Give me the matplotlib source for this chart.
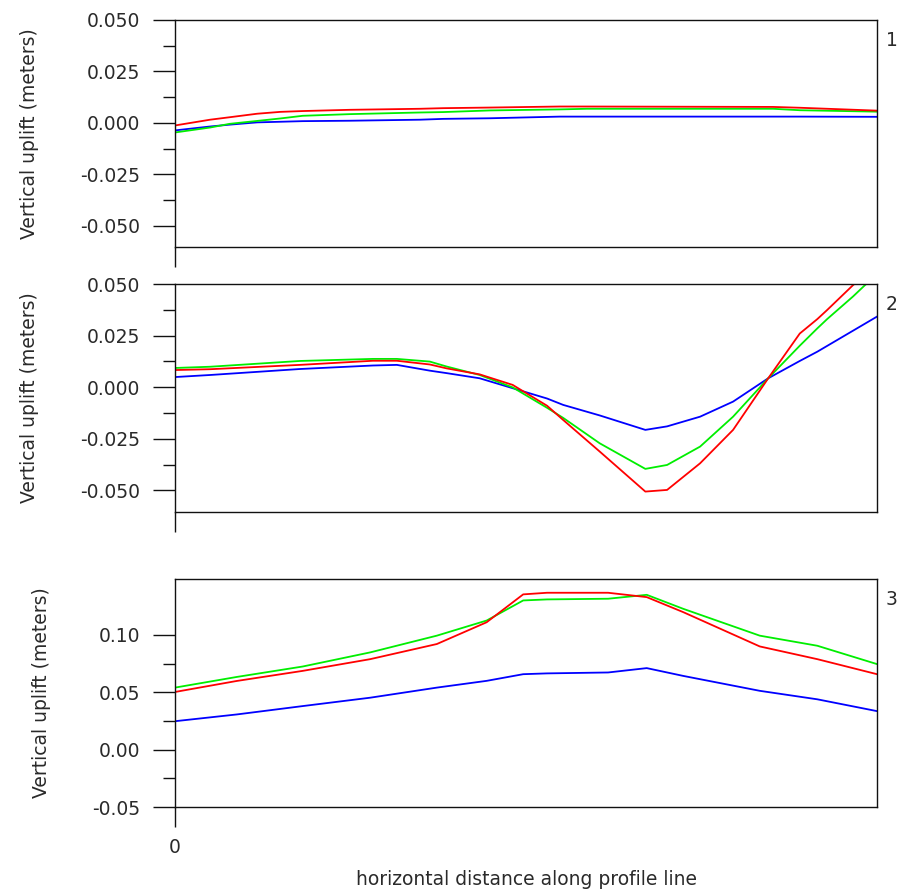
import matplotlib
matplotlib.use("Agg")
import matplotlib.pyplot as plt
from matplotlib.lines import Line2D
from matplotlib.ticker import FixedLocator, FuncFormatter

plt.rcParams['font.family'] = ['DejaVu Sans']
plt.rcParams['axes.unicode_minus'] = False

# ---------------- data ----------------
# Panel 1
x1 = [0, 5, 7.8, 11.7, 15, 18.2, 24.9, 34.9, 38.2, 44.9, 54.8, 58.7, 85.2, 89, 100]
red1 = [-0.0012, 0.0016, 0.0028, 0.0045, 0.0054, 0.0058, 0.0064, 0.0069, 0.0072, 0.0075,
        0.0080, 0.0080, 0.0078, 0.0074, 0.0060]
green1 = [-0.0046, -0.0022, -0.0004, 0.0010, 0.0022, 0.0035, 0.0043, 0.0051, 0.0053, 0.0061,
          0.0066, 0.0069, 0.0069, 0.0062, 0.0055]
blue1 = [-0.0036, -0.0017, -0.0008, 0.0003, 0.0006, 0.0009, 0.0011, 0.0016, 0.0020, 0.0023,
         0.0031, 0.0031, 0.0031, 0.0031, 0.0030]

# Panel 2
x2 = [0, 5, 17.8, 28.2, 31.6, 36.3, 38.7, 43.4, 48.1, 53, 55.3, 60.5, 67, 70.1, 74.8,
      79.5, 84.5, 89, 91.5, 92.9, 96.6, 98.3, 100]
red2 = [0.0083, 0.0087, 0.0108, 0.0128, 0.0128, 0.0110, 0.0091, 0.0062, 0.0011, -0.0090,
        -0.0159, -0.0312, -0.0506, -0.0498, -0.0369, -0.0207, 0.0043, 0.0260, 0.0330, 0.0374,
        0.0495, 0.0540, 0.0580]
green2 = [0.0093, 0.0099, 0.0127, 0.0137, 0.0137, 0.0124, 0.0100, 0.0059, -0.0001, -0.0100,
          -0.0149, -0.0272, -0.0396, -0.0377, -0.0288, -0.0143, 0.0043, 0.0201, 0.0285, 0.0330,
          0.0440, 0.0495, 0.0540]
blue2 = [0.0049, 0.0059, 0.0088, 0.0105, 0.0108, 0.0080, 0.0068, 0.0043, -0.0005, -0.0055,
         -0.0086, -0.0137, -0.0207, -0.0190, -0.0143, -0.0070, 0.0043, 0.0127, 0.0172, 0.0200,
         0.0274, 0.0308, 0.0342]

# Panel 3
x3 = [0, 8.8, 18.2, 27.8, 37.3, 44.4, 49.6, 53, 61.7, 67.2, 72.4, 83.3, 91.5, 100]
red3 = [0.0503, 0.0599, 0.0687, 0.0789, 0.0921, 0.1111, 0.1354, 0.1368, 0.1368, 0.1330,
        0.1199, 0.0900, 0.0789, 0.0658]
green3 = [0.0541, 0.0634, 0.0725, 0.0848, 0.0994, 0.1126, 0.1301, 0.1310, 0.1316, 0.1350,
          0.1228, 0.0994, 0.0906, 0.0746]
blue3 = [0.0248, 0.0307, 0.0380, 0.0453, 0.0541, 0.0600, 0.0658, 0.0665, 0.0673, 0.0711,
         0.0643, 0.0513, 0.0439, 0.0336]

yticks12 = [0.050, 0.025, 0.000, -0.025, -0.050]
yminor12 = [0.0375, 0.0125, -0.0125, -0.0375]
yticks3 = [0.10, 0.05, 0.00, -0.05]
yminor3 = [0.075, 0.025, -0.025]
panel_labels = ["1", "2", "3"]
ylabel = "Vertical uplift (meters)"
xlabel = "horizontal distance along profile line"

# ---------------- figure ----------------
W, H = 904, 896
fig = plt.figure(figsize=(W / 100, H / 100), dpi=100)
left_px, right_px = 175, 877
panels = [(20, 247), (284, 512), (579, 807)]
ylims = [(-0.0602, 0.05), (-0.0605, 0.05), (-0.05, 0.1488)]
data = [(x1, red1, green1, blue1), (x2, red2, green2, blue2), (x3, red3, green3, blue3)]
ticks = [(yticks12, yminor12, 3), (yticks12, yminor12, 3), (yticks3, yminor3, 2)]

text_color = '#2a2a2a'
fs = 13.5

for i, ((top, bot), ylim, (xs, r, g, b), (maj, mnr, dec)) in enumerate(zip(panels, ylims, data, ticks)):
    ax = fig.add_axes([left_px / W, 1 - bot / H, (right_px - left_px) / W, (bot - top) / H])
    ax.plot(xs, b, color='#0000ff', lw=1.3)
    ax.plot(xs, g, color='#00ee00', lw=1.3)
    ax.plot(xs, r, color='#ff0000', lw=1.3)
    ax.set_xlim(0, 100)
    ax.set_ylim(*ylim)
    for s in ax.spines.values():
        s.set_linewidth(1.0)
        s.set_color('#111111')
    ax.yaxis.set_major_locator(FixedLocator(maj))
    ax.yaxis.set_minor_locator(FixedLocator(mnr))
    ax.yaxis.set_major_formatter(FuncFormatter(lambda v, p, d=dec: f"{v:.{d}f}".replace("-0.000", "0.000")))
    ax.tick_params(axis='y', which='major', direction='out', length=15.8, width=1.0,
                   pad=9, labelsize=fs, labelcolor=text_color, color='#111111')
    ax.tick_params(axis='y', which='minor', direction='out', length=8.6, width=1.0,
                   color='#111111')
    ax.set_ylabel(ylabel, fontsize=fs, color=text_color, labelpad=30)
    # left spine extension below the frame
    ext = 20 / (bot - top)
    ax.add_line(Line2D([0, 0], [0, -ext], transform=ax.transAxes, clip_on=False,
                       color='#111111', lw=1.0, solid_capstyle='butt'))
    if i < 2:
        ax.set_xticks([])
    else:
        ax.set_xticks([0])
        ax.set_xticklabels(["0"])
        ax.tick_params(axis='x', length=0, pad=22, labelsize=fs, labelcolor=text_color)
        ax.set_xlabel(xlabel, fontsize=fs, color=text_color, labelpad=10)
    fig.text(886 / W, 1 - (top + 11) / H, panel_labels[i], fontsize=fs,
             color=text_color, ha='left', va='top')

fig.savefig("out.png", dpi=100)
